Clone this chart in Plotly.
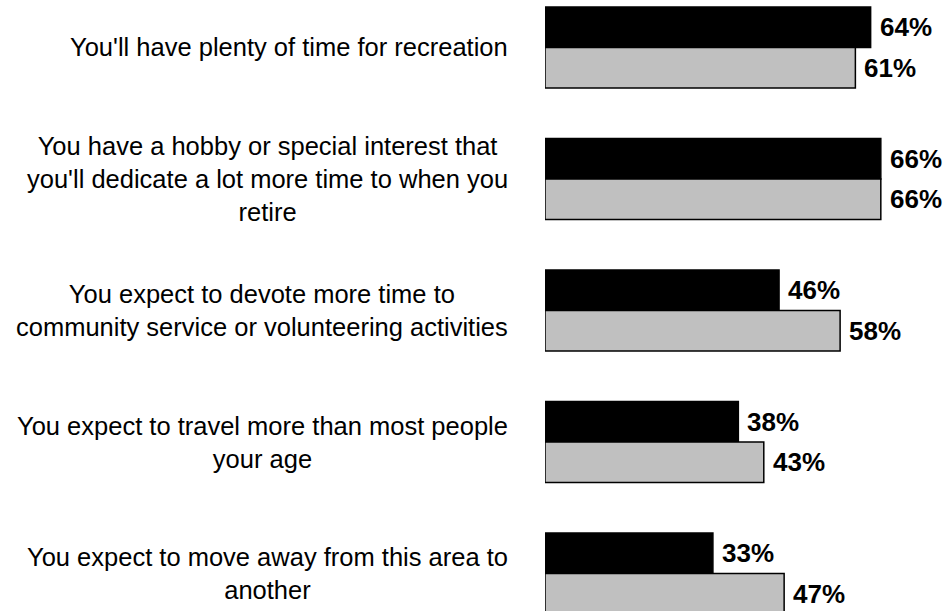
import plotly.graph_objects as go

categories = [
    "You'll have plenty of time for recreation",
    "You have a hobby or special interest that<br>you'll dedicate a lot more time to when you<br>retire",
    "You expect to devote more time to<br>community service or volunteering activities",
    "You expect to travel more than most people<br>your age",
    "You expect to move away from this area to<br>another",
]
series_black = [64, 66, 46, 38, 33]
series_gray = [61, 66, 58, 43, 47]

FONT = "Liberation Sans, Arial, sans-serif"

fig = go.Figure()
fig.add_trace(go.Bar(
    y=categories, x=series_black, orientation="h", name="A",
    marker=dict(color="#000000", line=dict(color="#000000", width=1.5)),
))
fig.add_trace(go.Bar(
    y=categories, x=series_gray, orientation="h", name="B",
    marker=dict(color="#C0C0C0", line=dict(color="#000000", width=1.5)),
))

annotations = []
for cat, vb, vg in zip(categories, series_black, series_gray):
    annotations.append(dict(
        x=0, xref="paper", xanchor="right", xshift=-35,
        y=cat, yref="y", yanchor="middle",
        text=cat, align="center", showarrow=False,
        font=dict(family=FONT, size=25.5, color="#000000"),
    ))
    for v, shift in ((vb, 20.3), (vg, -20.3)):
        annotations.append(dict(
            x=v, xref="x", xanchor="left", xshift=7,
            y=cat, yref="y", yanchor="middle", yshift=shift,
            text=f"<b>{v}%</b>", showarrow=False,
            font=dict(family=FONT, size=26, color="#000000"),
        ))

fig.update_layout(
    width=949, height=611,
    margin=dict(l=545, r=0, t=0, b=0),
    paper_bgcolor="white", plot_bgcolor="white",
    barmode="group", bargap=0.384, bargroupgap=0,
    showlegend=False,
    xaxis=dict(range=[0, 79.4], visible=False, fixedrange=True),
    yaxis=dict(type="category", range=[4.285, -0.361], visible=False,
               categoryorder="array", categoryarray=categories),
    annotations=annotations,
)

fig.write_html(
    "out.html",
    config={"displayModeBar": False},
    post_script="document.body.style.margin='0';document.body.style.overflow='hidden';",
)
